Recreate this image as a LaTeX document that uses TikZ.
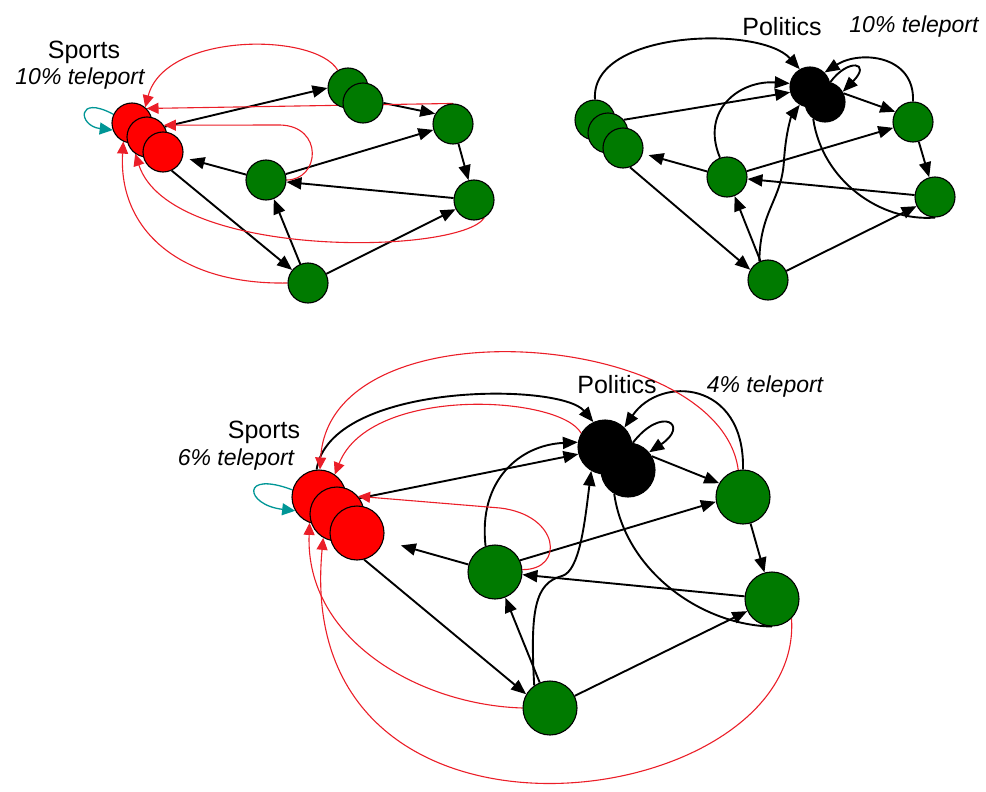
\documentclass[tikz,border=0pt]{standalone}
\usepackage{fontspec}
\setmainfont{Liberation Sans}
\usetikzlibrary{arrows.meta,backgrounds}
\definecolor{pgreen}{RGB}{0,122,0}
\definecolor{pteal}{RGB}{0,150,150}
\definecolor{pred}{RGB}{235,30,40}

\begin{document}
\begin{tikzpicture}[x=1pt,y=-1pt,
  gnode/.style={circle,draw,line width=1.1pt,fill=pgreen,minimum size=40pt,inner sep=0pt},
  rnode/.style={gnode,fill=red},
  pnode/.style={gnode,fill=black},
  bignode/.style={minimum size=54pt},
  link/.style={line width=1.9pt,-{Triangle[length=15pt,width=12pt]}},
  tele/.style={pred,line width=1.1pt,-{Triangle[length=12pt,width=11pt]}},
  jump/.style={pteal,line width=1.3pt,-{Triangle[length=13pt,width=12pt]}},
  topic/.style={font=\fontsize{25}{30}\selectfont},
  rate/.style={font=\fontsize{23}{28}\selectfont\itshape}]
\useasboundingbox (0,0) rectangle (986,792);

% sports only
\node[topic] (atitle) at (84,52) {Sports};
\node[rate] (arate) at (80,79) {10\% teleport};
\node[rnode] (asp1) at (132,123) {};
\node[rnode] (asp2) at (147,137) {};
\node[rnode] (asp3) at (163,152) {};
\node[gnode] (apo1) at (348,88) {};
\node[gnode] (apo2) at (363,103) {};
\node[gnode] (aup) at (453,124) {};
\node[gnode] (amid) at (266,180) {};
\node[gnode] (alow) at (474,200) {};
\node[gnode] (abot) at (308,283) {};

% politics only
\node[topic] (btitle) at (782,27) {Politics};
\node[rate] (brate) at (914,27) {10\% teleport};
\node[gnode] (bsp1) at (595,120) {};
\node[gnode] (bsp2) at (608,133) {};
\node[gnode] (bsp3) at (623,148) {};
\node[pnode] (bpo1) at (810,87) {};
\node[pnode] (bpo2) at (825,102) {};
\node[gnode] (bup) at (913,122) {};
\node[gnode] (bmid) at (727,177) {};
\node[gnode] (blow) at (935,197) {};
\node[gnode] (bbot) at (768,280) {};

% both
\node[topic] (ctitle) at (264,432) {Sports};
\node[rate] (crate) at (236,460) {6\% teleport};
\node[topic] (dtitle) at (617,385) {Politics};
\node[rate] (drate) at (765,387) {4\% teleport};
\node[rnode,bignode] (csp1) at (319,497) {};
\node[rnode,bignode] (csp2) at (337,514) {};
\node[rnode,bignode] (csp3) at (357,533) {};
\node[pnode,bignode] (cpo1) at (605,447) {};
\node[pnode,bignode] (cpo2) at (628,470) {};
\node[gnode,bignode] (cup) at (743,497) {};
\node[gnode,bignode] (cmid) at (495,572) {};
\node[gnode,bignode] (clow) at (772,599) {};
\node[gnode,bignode] (cbot) at (550,708) {};

\begin{scope}[on background layer]
\draw[link] (asp2.30) -- (apo1.west);
\draw[link] (apo2.east) -- (aup.150);
\draw[link] (amid) -- (aup);
\draw[link] (aup) -- (alow);
\draw[link] (alow) -- (amid);
\draw[link,shorten >=7pt] (amid) -- (asp3);
\draw[link] (asp3.-65) -- (abot);
\draw[link] (abot) -- (amid);
\draw[link] (abot) -- (alow);
\draw[tele] (apo1.120) .. controls (315,32) and (165,32) .. (asp1.50);
\draw[tele] (aup.north) -- (asp1.north east);
\draw[tele] (amid.east) .. controls (320,180) and (324,126) .. (280,125) -- (asp2.35);
\draw[tele] (alow.-60) .. controls (460,255) and (170,260) .. (asp2.235);
\draw[tele] (abot.west) .. controls (180,285) and (118,230) .. (asp1.245);
\draw[jump] (asp1.155) .. controls (76,94) and (78,126) .. (asp1.200);

\draw[link] (bsp2.40) -- (bpo1.195);
\draw[link] (bsp1.north) .. controls (590,30) and (760,25) .. (bpo1.120);
\draw[link,shorten >=6pt] (bmid) -- (bsp3);
\draw[link] (bmid) -- (bup);
\draw[link] (bmid.110) .. controls (700,110) and (740,80) .. (bpo1.170);
\draw[link] (bbot) -- (bmid);
\draw[link] (bbot) -- (blow);
\draw[link] (bsp3.-70) -- (bbot.150);
\draw[link] (bbot.115) .. controls (760,210) and (782,200) .. (784,160) .. controls (786,130) and (792,115) .. (bpo1.240);
\draw[link] (bpo2.25) -- (bup.150);
\draw[link] (bup) -- (blow);
\draw[link] (blow) -- (bmid);
\draw[line width=1.9pt] (bpo2.235) .. controls (822,180) and (880,222) .. (blow.south);
\draw[link] (bup.north) .. controls (915,55) and (860,50) .. (bpo1.45);
\draw[link] (bpo2.75) .. controls (848,58) and (872,62) .. (bpo2.30);

\draw[link] (csp2.35) -- (cpo1.195);
\draw[link] (csp1.95) .. controls (330,382) and (560,382) .. (cpo1.115);
\draw[link,shorten >=18pt] (cmid) -- (csp3);
\draw[link] (csp3.-75) -- (cbot.150);
\draw[link] (cmid.25) -- (cup.190);
\draw[link] (cmid.110) .. controls (478,480) and (520,445) .. (cpo1.170);
\draw[link] (cbot) -- (cmid);
\draw[link] (cbot) -- (clow);
\draw[link] (cbot.125) .. controls (530,610) and (535,583) .. (562,576) .. controls (580,571) and (585,520) .. (cpo1.240);
\draw[link] (cpo2.30) -- (cup.150);
\draw[link] (cup) -- (clow);
\draw[link] (clow) -- (cmid);
\draw[line width=1.9pt] (cpo2.240) .. controls (625,570) and (700,625) .. (clow.south);
\draw[link] (cup.north) .. controls (745,380) and (660,375) .. (cpo1.45);
\draw[link] (cpo2.80) .. controls (662,405) and (690,425) .. (cpo2.40);
\draw[tele] (cup.100) .. controls (720,330) and (330,300) .. (csp1.88);
\draw[tele] (cpo1.150) .. controls (560,395) and (370,385) .. (csp1.55);
\draw[tele] (cmid.5) .. controls (565,570) and (560,515) .. (500,508) -- (csp2.40);
\draw[tele] (cbot.west) .. controls (420,705) and (305,640) .. (csp1.250);
\draw[tele] (clow.-45) .. controls (805,815) and (290,885) .. (csp2.240);
\draw[jump] (csp1.165) .. controls (240,470) and (245,505) .. (csp1.210);
\end{scope}
\end{tikzpicture}
\end{document}
